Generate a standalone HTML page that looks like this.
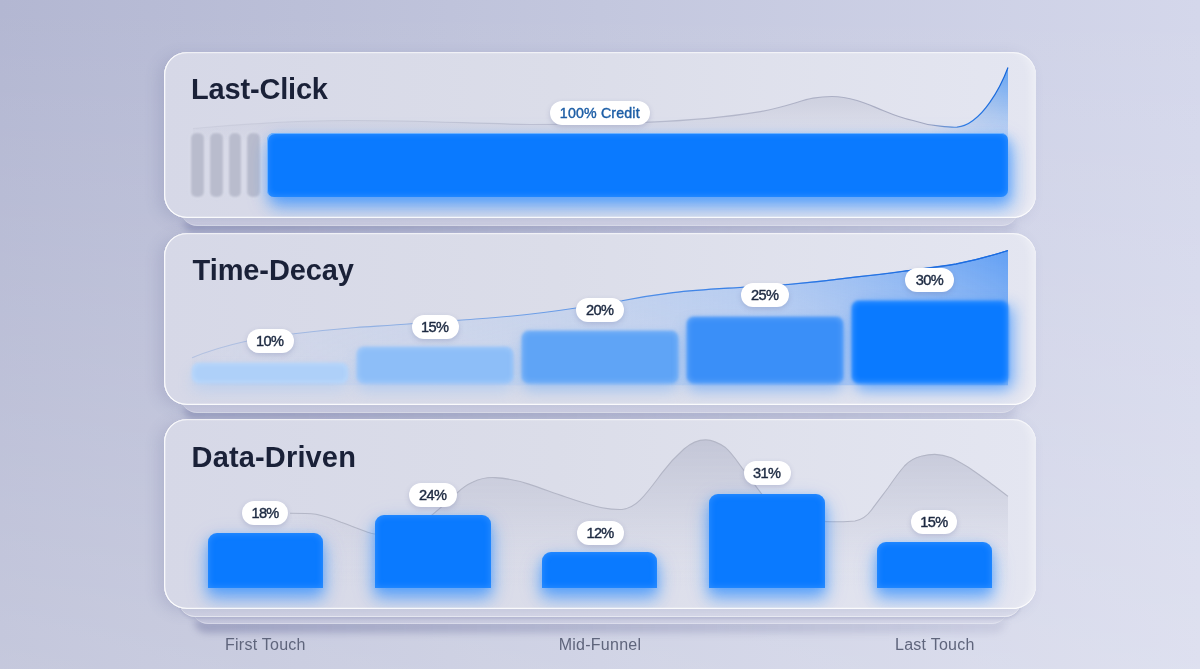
<!DOCTYPE html>
<html>
<head>
<meta charset="utf-8">
<style>
*{margin:0;padding:0;box-sizing:border-box}
html,body{width:1200px;height:669px;overflow:hidden}
body{font-family:"Liberation Sans",sans-serif;position:relative;
 background:linear-gradient(180deg,rgba(255,255,255,0) 0%,rgba(255,255,255,.24) 100%),linear-gradient(90deg,#b3b7d2 0%,#c3c7de 50%,#d4d7eb 100%);}
.under{position:absolute;height:40px;border-radius:0 0 16px 16px;background:linear-gradient(90deg,#cbcde1,#d9dbeb);border-bottom:1px solid rgba(255,255,255,.3)}
.ush{position:absolute;height:11px;border-radius:0 0 14px 14px;background:linear-gradient(90deg,rgba(88,93,145,.37),rgba(92,97,148,.26) 50%,rgba(95,100,150,.13));filter:blur(3.5px)}
.pshadow{position:absolute;left:164px;width:871.5px;border-radius:23px;box-shadow:-6px 3px 14px rgba(90,95,145,.17)}
.panel{position:absolute;left:164px;width:871.5px;border-radius:23px;overflow:hidden;
 background:linear-gradient(90deg,#d6d8e7 0%,#dbdde9 45%,#e4e6f1 100%);}
.edge{position:absolute;left:164px;width:871.5px;border-radius:23px;pointer-events:none;
 box-shadow:inset 1.3px 0 0 rgba(255,255,255,.85),inset 0 1.3px 0 rgba(255,255,255,.6),inset 0 -1.3px 0 rgba(255,255,255,.85),inset -10px 0 10px -6px rgba(255,255,255,.4)}
.title{position:absolute;left:27px;font-weight:bold;font-size:29px;color:#1a2138;letter-spacing:-0.18px;line-height:30px;white-space:nowrap;filter:blur(.35px)}
.pill{position:absolute;height:24px;border-radius:12px;background:#fff;color:#1c2941;font-size:14.6px;letter-spacing:-.65px;text-indent:-.65px;font-weight:normal;-webkit-text-stroke:.4px #1c2941;
 line-height:25.6px;text-align:center;filter:blur(.3px);box-shadow:0 2px 5px rgba(90,100,150,.25)}
.bar{position:absolute;background:#0a7aff;filter:blur(.6px)}
.b2{border-radius:7px;filter:blur(1.3px)}
.b3{border-radius:9px 9px 0 0;box-shadow:0 10px 16px rgba(45,140,255,.58),0 3px 10px rgba(60,150,255,.32),0 8px 24px rgba(60,150,255,.22),inset 0 0 7px rgba(120,185,255,.4)}
.gb{position:absolute;border-radius:5px;background:#b9bccd;filter:blur(.8px);box-shadow:0 0 3px rgba(235,237,246,.8)}
.lbl{position:absolute;top:634.6px;font-size:16px;letter-spacing:.25px;color:#5f657c;line-height:20px;white-space:nowrap;transform:translateX(-50%);filter:blur(.3px)}
svg{position:absolute;left:0;top:0}
</style>
</head>
<body>

<div class="ush" style="top:221px;left:183px;width:833px"></div>
<div class="ush" style="top:408px;left:183px;width:833px"></div>
<div class="ush" style="top:620px;left:194px;width:812px;height:13px"></div>
<div class="under" style="top:185.8px;left:181px;width:837px"></div>
<div class="under" style="top:372.8px;left:181px;width:837px"></div>
<div class="under" style="top:584.2px;left:192px;width:816px;background:linear-gradient(90deg,#c5c7dd,#d6d8e9)"></div>
<div class="under" style="top:576.8px;left:179px;width:842px;background:linear-gradient(90deg,#d2d4e5,#dfe1ef);border-bottom:1.2px solid rgba(255,255,255,.55);box-shadow:0 2px 3px rgba(95,100,150,.18)"></div>
<div class="pshadow" style="top:51.5px;height:166.8px"></div>
<div class="pshadow" style="top:232.8px;height:172.4px"></div>
<div class="pshadow" style="top:418.8px;height:190.4px"></div>
<div class="panel" style="top:51.5px;height:166.8px">
 <svg width="871.5" height="166.8" viewBox="164 51.5 871.5 166.8">
  <defs>
   <linearGradient id="g1" x1="0" y1="0" x2="0" y2="1"><stop offset="0" stop-color="#a9acc2" stop-opacity=".5"/><stop offset=".5" stop-color="#b9bccf" stop-opacity=".4"/><stop offset="1" stop-color="#c9cbdc" stop-opacity=".1"/></linearGradient>
   <linearGradient id="g1b" x1="0" y1="0" x2="0" y2="1"><stop offset="0" stop-color="#5aa0f5" stop-opacity=".95"/><stop offset="1" stop-color="#a9c9f7" stop-opacity=".5"/></linearGradient>
   <linearGradient id="s1" gradientUnits="userSpaceOnUse" x1="193" y1="0" x2="1008" y2="0"><stop offset="0" stop-color="#b9bccd" stop-opacity=".3"/><stop offset=".5" stop-color="#b4b7c9" stop-opacity=".8"/><stop offset=".9" stop-color="#a5a9c0"/><stop offset=".95" stop-color="#2b7be6"/><stop offset="1" stop-color="#1565d8"/></linearGradient>
   <linearGradient id="m1" gradientUnits="userSpaceOnUse" x1="930" y1="0" x2="1008" y2="0"><stop offset="0" stop-color="#fff" stop-opacity="0"/><stop offset=".6" stop-color="#fff" stop-opacity=".7"/><stop offset="1" stop-color="#fff" stop-opacity="1"/></linearGradient>
   <mask id="mk1"><rect x="900" y="51" width="140" height="167" fill="url(#m1)"/></mask>
  </defs>
  <path d="M193,128 C260,122 300,120 350,120 C420,120 470,123 530,124 C580,124 620,123 650,121.7 C690,120 725,117 757,111.7 C785,107 800,100 813,97.7 C822,96 827,96 832,96 C842,96 850,98 857,100 C868,103 875,107 883,110 C895,115 903,118 913,120 C925,124 932,125 940,125.7 C947,126.5 952,127 957,126.7 C964,126 969,123 973,120 C980,115 985,109 990,101.7 C997.5,91 1003.5,79 1008,67 L1008,140 L193,140 Z" fill="url(#g1)"/>
  <path d="M930,126 C947,126.5 952,127 957,126.7 C964,126 969,123 973,120 C980,115 985,109 990,101.7 C997.5,91 1003.5,79 1008,67 L1008,140 L930,140 Z" fill="url(#g1b)" mask="url(#mk1)"/>
  <path d="M193,128 C260,122 300,120 350,120 C420,120 470,123 530,124 C580,124 620,123 650,121.7 C690,120 725,117 757,111.7 C785,107 800,100 813,97.7 C822,96 827,96 832,96 C842,96 850,98 857,100 C868,103 875,107 883,110 C895,115 903,118 913,120 C925,124 932,125 940,125.7 C947,126.5 952,127 957,126.7 C964,126 969,123 973,120 C980,115 985,109 990,101.7 C997.5,91 1003.5,79 1008,67" fill="none" stroke="url(#s1)" stroke-width="1.2"/>
 </svg>
 <div class="title" style="top:22.9px;">Last-Click</div>
 <div class="gb" style="left:27.4px;top:81.9px;width:12.6px;height:63.8px;"></div>
 <div class="gb" style="left:46.1px;top:81.9px;width:12.6px;height:63.8px;"></div>
 <div class="gb" style="left:64.7px;top:81.9px;width:12.6px;height:63.8px;"></div>
 <div class="gb" style="left:83.4px;top:81.9px;width:12.6px;height:63.8px;"></div>
 <div class="bar" style="left:102.8px;top:81.4px;width:741.2px;height:64.3px;border-radius:7px;box-shadow:3px 10px 16px rgba(45,140,255,.58),2px 3px 10px rgba(60,150,255,.3),2px 8px 24px rgba(60,150,255,.22),inset 0 0 7px rgba(120,185,255,.45),inset 1px 1px 0 rgba(170,212,255,.6)"></div>
 <div class="pill" style="left:385.5px;top:49.3px;width:100.5px;color:#1d5ea6;-webkit-text-stroke:.4px #1d5ea6;font-size:14.2px;letter-spacing:.17px;text-indent:.17px">100% Credit</div>
</div>
<div class="panel" style="top:232.8px;height:172.4px">
 <svg width="871.5" height="172.4" viewBox="164 232.8 871.5 172.4">
  <defs>
   <linearGradient id="g2" gradientUnits="userSpaceOnUse" x1="192" y1="0" x2="1008" y2="0"><stop offset="0" stop-color="#9dc0f5" stop-opacity=".05"/><stop offset=".15" stop-color="#9dc0f5" stop-opacity=".2"/><stop offset=".4" stop-color="#9dc0f5" stop-opacity=".36"/><stop offset=".7" stop-color="#8ab6f6" stop-opacity=".58"/><stop offset="1" stop-color="#5b9cf4" stop-opacity=".95"/></linearGradient>
   <linearGradient id="s2b" gradientUnits="userSpaceOnUse" x1="192" y1="0" x2="1008" y2="0"><stop offset="0" stop-color="#1a6be0" stop-opacity="0"/><stop offset=".5" stop-color="#1a6be0" stop-opacity="0"/><stop offset="1" stop-color="#1a6be0" stop-opacity="1"/></linearGradient>
   <linearGradient id="m2" gradientUnits="userSpaceOnUse" x1="0" y1="250" x2="0" y2="385"><stop offset="0" stop-color="#fff" stop-opacity="1"/><stop offset=".35" stop-color="#fff" stop-opacity=".8"/><stop offset="1" stop-color="#fff" stop-opacity=".55"/></linearGradient>
   <mask id="mk2"><rect x="164" y="232" width="872" height="175" fill="url(#m2)"/></mask>
   <linearGradient id="s2" gradientUnits="userSpaceOnUse" x1="192" y1="0" x2="1008" y2="0"><stop offset="0" stop-color="#9fb4dc" stop-opacity=".6"/><stop offset=".4" stop-color="#6f9fe6"/><stop offset=".7" stop-color="#3f86ea"/><stop offset="1" stop-color="#1a6be0"/></linearGradient>
  </defs>
  <path d="M192,357.5 C210,350 228,345 246,341 C262,337 278,335 294,333.5 C315,331 335,329 356,327.3 C375,326 393,325 411,323.6 C428,322 443,321 459,320 C477,318.6 493,317.5 510,316 C533,314 555,311 576,307.8 C592,305.5 607,303 622,300.5 C640,297 656,294.5 673,292.4 C697,289.5 720,288.5 743,287 C760,286 775,285.3 791,284 C814,282 836,279.5 857,276.7 C873,275 889,273 904,271 C922,268.6 939,266.5 956,263.8 C975,260 992,255.5 1008,250.3 L1008,385 L192,385 Z" fill="url(#g2)" mask="url(#mk2)"/>
  <path d="M192,357.5 C210,350 228,345 246,341 C262,337 278,335 294,333.5 C315,331 335,329 356,327.3 C375,326 393,325 411,323.6 C428,322 443,321 459,320 C477,318.6 493,317.5 510,316 C533,314 555,311 576,307.8 C592,305.5 607,303 622,300.5 C640,297 656,294.5 673,292.4 C697,289.5 720,288.5 743,287 C760,286 775,285.3 791,284 C814,282 836,279.5 857,276.7 C873,275 889,273 904,271 C922,268.6 939,266.5 956,263.8 C975,260 992,255.5 1008,250.3" fill="none" stroke="url(#s2)" stroke-width="1.1"/>
  <path d="M192,357.5 C210,350 228,345 246,341 C262,337 278,335 294,333.5 C315,331 335,329 356,327.3 C375,326 393,325 411,323.6 C428,322 443,321 459,320 C477,318.6 493,317.5 510,316 C533,314 555,311 576,307.8 C592,305.5 607,303 622,300.5 C640,297 656,294.5 673,292.4 C697,289.5 720,288.5 743,287 C760,286 775,285.3 791,284 C814,282 836,279.5 857,276.7 C873,275 889,273 904,271 C922,268.6 939,266.5 956,263.8 C975,260 992,255.5 1008,250.3" fill="none" stroke="url(#s2b)" stroke-width="1.3"/>
 </svg>
 <div class="title" style="top:22.3px;letter-spacing:-.1px;left:28.6px">Time-Decay</div>
 <div class="bar b2" style="left:28.3px;top:130.6px;width:155.4px;height:19.8px;background:#aed0f9;box-shadow:inset 0 0 6px rgba(255,255,255,.28),0 0 3px 0 #aed0f9,0px 8px 14px rgba(150,195,250,.35)"></div>
 <div class="bar b2" style="left:193.3px;top:114.2px;width:155.4px;height:36.2px;background:#8dbef8;box-shadow:inset 0 0 6px rgba(255,255,255,.28),0 0 3px 0 #8dbef8,0px 8px 14px rgba(130,185,250,.4)"></div>
 <div class="bar b2" style="left:358.3px;top:98.4px;width:155.4px;height:52.0px;background:#5fa4f6;box-shadow:inset 0 0 6px rgba(255,255,255,.28),0 0 3px 0 #5fa4f6,0px 8px 14px rgba(95,164,246,.45)"></div>
 <div class="bar b2" style="left:523.3px;top:83.8px;width:155.4px;height:66.6px;background:#3a8ff8;box-shadow:inset 0 0 6px rgba(255,255,255,.28),0 0 3px 0 #3a8ff8,0px 8px 14px rgba(70,150,250,.5)"></div>
 <div class="bar b2" style="left:688.3px;top:68.0px;width:155.4px;height:82.4px;background:#0a7aff;box-shadow:inset 0 0 6px rgba(255,255,255,.28),0 0 3px 0 #0a7aff,3px 8px 14px rgba(45,140,255,.55),8px 2px 14px rgba(70,150,255,.28)"></div>
 <div class="pill" style="left:82.5px;top:96.7px;width:47px;">10%</div>
 <div class="pill" style="left:247.5px;top:82.2px;width:47px;">15%</div>
 <div class="pill" style="left:412.0px;top:65.2px;width:48px;">20%</div>
 <div class="pill" style="left:577.0px;top:50.4px;width:48px;">25%</div>
 <div class="pill" style="left:741.3px;top:35.3px;width:49px;">30%</div>
</div>
<div class="panel" style="top:418.8px;height:190.4px">
 <svg width="871.5" height="190.4" viewBox="164 418.8 871.5 190.4">
  <defs>
   <linearGradient id="m3" gradientUnits="userSpaceOnUse" x1="288" y1="0" x2="345" y2="0"><stop offset="0" stop-color="#fff" stop-opacity="0"/><stop offset="1" stop-color="#fff" stop-opacity="1"/></linearGradient>
   <mask id="mk3"><rect x="164" y="418" width="872" height="192" fill="url(#m3)"/></mask>
   <linearGradient id="g3" gradientUnits="userSpaceOnUse" x1="0" y1="440" x2="0" y2="588"><stop offset="0" stop-color="#b9bccf" stop-opacity=".72"/><stop offset=".45" stop-color="#c2c5d6" stop-opacity=".42"/><stop offset=".85" stop-color="#d0d2e2" stop-opacity=".06"/><stop offset="1" stop-color="#d0d2e2" stop-opacity="0"/></linearGradient>
  </defs>
  <path d="M290,513 C300,513 308,513 316,514 C326,516 334,519 341,522 C352,526 362,530 371,533 C385,537 400,535 415,527 C432,517 445,503 457,492.8 C463,487 468,484 473,481.8 C481,478 488,477 495,477.4 C507,478 518,480.5 528,483.7 C541,488 553,492.5 565,496.5 C578,501 590,505 602,507.5 C610,509 616,509.5 622,509.3 C629,508.5 635,505 640,500 C648,492 655,482 662,472.7 C670,462 677,455 684,448.8 C692,442 699,439.5 706,439.7 C713,440 719,443 725,447 C732,453 737,461 743,469 C749,477 755,485 761,493 C775,510 800,521 827,521.4 C836,521.5 845,522 855,520.8 C862,519.5 867,516 871.5,509.8 C878,501 883,494.5 888,487.8 C894,479 899,472 904.5,465.8 C910,460 915,457.5 921,456.1 C926,454.8 930,454.2 934.8,454.2 C941,454.3 946,455.5 951.3,457.5 C958,460.5 964,464.5 970.5,468.5 C977,473 983.5,477.5 989.8,482.3 C996,487 1002,491.5 1008,496.2 L1008,588 L290,588 Z" fill="url(#g3)" mask="url(#mk3)"/>
  <path d="M290,513 C300,513 308,513 316,514 C326,516 334,519 341,522 C352,526 362,530 371,533 C385,537 400,535 415,527 C432,517 445,503 457,492.8 C463,487 468,484 473,481.8 C481,478 488,477 495,477.4 C507,478 518,480.5 528,483.7 C541,488 553,492.5 565,496.5 C578,501 590,505 602,507.5 C610,509 616,509.5 622,509.3 C629,508.5 635,505 640,500 C648,492 655,482 662,472.7 C670,462 677,455 684,448.8 C692,442 699,439.5 706,439.7 C713,440 719,443 725,447 C732,453 737,461 743,469 C749,477 755,485 761,493 C775,510 800,521 827,521.4 C836,521.5 845,522 855,520.8 C862,519.5 867,516 871.5,509.8 C878,501 883,494.5 888,487.8 C894,479 899,472 904.5,465.8 C910,460 915,457.5 921,456.1 C926,454.8 930,454.2 934.8,454.2 C941,454.3 946,455.5 951.3,457.5 C958,460.5 964,464.5 970.5,468.5 C977,473 983.5,477.5 989.8,482.3 C996,487 1002,491.5 1008,496.2" fill="none" stroke="#b3b6c6" stroke-width="1.1"/>
 </svg>
 <div class="title" style="top:23.0px;letter-spacing:.15px;left:27.6px">Data-Driven</div>
 <div class="bar b3" style="left:43.5px;top:114.5px;width:115.6px;height:54.4px;"></div>
 <div class="bar b3" style="left:211.0px;top:95.8px;width:115.6px;height:73.1px;"></div>
 <div class="bar b3" style="left:377.9px;top:133.2px;width:115.6px;height:35.7px;"></div>
 <div class="bar b3" style="left:545.4px;top:75.0px;width:115.6px;height:93.9px;"></div>
 <div class="bar b3" style="left:712.5px;top:123.7px;width:115.6px;height:45.2px;"></div>
 <div class="pill" style="left:78.4px;top:82.2px;width:46px;">18%</div>
 <div class="pill" style="left:245.0px;top:63.8px;width:48px;">24%</div>
 <div class="pill" style="left:412.9px;top:101.9px;width:47px;">12%</div>
 <div class="pill" style="left:579.5px;top:42.6px;width:47px;">31%</div>
 <div class="pill" style="left:747.3px;top:91.7px;width:46px;">15%</div>
</div>
<div class="edge" style="top:51.5px;height:166.8px"></div>
<div class="edge" style="top:232.8px;height:172.4px"></div>
<div class="edge" style="top:418.8px;height:190.4px"></div>
<div class="lbl" style="left:265.4px">First Touch</div>
<div class="lbl" style="left:600px">Mid-Funnel</div>
<div class="lbl" style="left:934.8px">Last Touch</div>
</body>
</html>
